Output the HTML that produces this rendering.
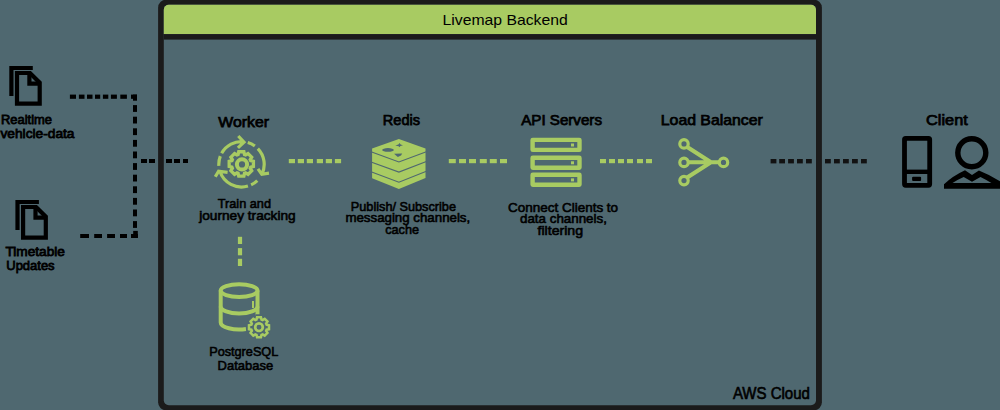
<!DOCTYPE html>
<html><head><meta charset="utf-8"><style>
html,body{margin:0;padding:0;background:#4f6870;width:1000px;height:410px;overflow:hidden;}
svg{display:block;font-family:"Liberation Sans",sans-serif;}
</style></head><body><svg width="1000" height="410" viewBox="0 0 1000 410"><rect x="158.1" y="-0.3" width="663.8" height="410.6" rx="8" fill="#1b1b1b"/><rect x="163.8" y="4.8" width="652.2" height="400.4" rx="5" fill="#4f6870"/><path d="M163.8,34.1 V9.8 A5,5 0 0 1 168.8,4.8 H811 A5,5 0 0 1 816,9.8 V34.1 Z" fill="#a8cb62"/><rect x="163.8" y="34.1" width="652.2" height="5.5" fill="#1b1b1b"/><g fill="#000000" font-family="Liberation Sans"><text x="442.5" y="24.5" textLength="125.3" lengthAdjust="spacingAndGlyphs" font-size="15" font-weight="normal">Livemap Backend</text><g stroke="#000" stroke-width="0.75"><text x="218.3" y="126.8" textLength="50.7" lengthAdjust="spacingAndGlyphs" font-size="14.8" font-weight="normal">Worker</text><text x="382.8" y="124.7" textLength="37.2" lengthAdjust="spacingAndGlyphs" font-size="14.8" font-weight="normal">Redis</text><text x="521.2" y="124.5" textLength="80.8" lengthAdjust="spacingAndGlyphs" font-size="14.8" font-weight="normal">API Servers</text><text x="660.8" y="124.8" textLength="102.0" lengthAdjust="spacingAndGlyphs" font-size="14.8" font-weight="normal">Load Balancer</text><text x="926.1" y="124.8" textLength="41.7" lengthAdjust="spacingAndGlyphs" font-size="14.8" font-weight="normal">Client</text></g><g stroke="#000" stroke-width="0.8"><text x="1" y="123.8" textLength="51.0" lengthAdjust="spacingAndGlyphs" font-size="13.4" font-weight="normal">Realtime</text><text x="0.5" y="137.8" textLength="74.0" lengthAdjust="spacingAndGlyphs" font-size="13.4" font-weight="normal">vehicle-data</text><text x="5.4" y="256.4" textLength="59.5" lengthAdjust="spacingAndGlyphs" font-size="13.4" font-weight="normal">Timetable</text><text x="6.3" y="270.4" textLength="48.3" lengthAdjust="spacingAndGlyphs" font-size="13.4" font-weight="normal">Updates</text></g><g stroke="#000" stroke-width="0.6"><text x="217.7" y="208.1" textLength="53.3" lengthAdjust="spacingAndGlyphs" font-size="13.2" font-weight="normal">Train and</text><text x="199.2" y="219.7" textLength="96.5" lengthAdjust="spacingAndGlyphs" font-size="13.2" font-weight="normal">journey tracking</text><text x="350.8" y="210.5" textLength="105.2" lengthAdjust="spacingAndGlyphs" font-size="13.2" font-weight="normal">Publish/ Subscribe</text><text x="345.4" y="222" textLength="124.8" lengthAdjust="spacingAndGlyphs" font-size="13.2" font-weight="normal">messaging channels,</text><text x="385.2" y="234.1" textLength="33.8" lengthAdjust="spacingAndGlyphs" font-size="13.2" font-weight="normal">cache</text><text x="508.1" y="211.5" textLength="110.0" lengthAdjust="spacingAndGlyphs" font-size="13.2" font-weight="normal">Connect Clients to</text><text x="520" y="223" textLength="86.9" lengthAdjust="spacingAndGlyphs" font-size="13.2" font-weight="normal">data channels,</text><text x="537.5" y="234.9" textLength="45.6" lengthAdjust="spacingAndGlyphs" font-size="13.2" font-weight="normal">filtering</text><text x="209.2" y="356" textLength="69.1" lengthAdjust="spacingAndGlyphs" font-size="13.2" font-weight="normal">PostgreSQL</text><text x="217.6" y="370.2" textLength="55.5" lengthAdjust="spacingAndGlyphs" font-size="13.2" font-weight="normal">Database</text></g><g stroke="#000" stroke-width="0.6"><text x="732.9" y="398.5" textLength="77.0" lengthAdjust="spacingAndGlyphs" font-size="15.8" font-weight="normal">AWS Cloud</text></g></g><rect x="69.9" y="94.6" width="6.099999999999994" height="4.2" fill="#000"/><rect x="78.9" y="94.6" width="5.599999999999994" height="4.2" fill="#000"/><rect x="87" y="94.6" width="5.5" height="4.2" fill="#000"/><rect x="95" y="94.6" width="5.200000000000003" height="4.2" fill="#000"/><rect x="102.9" y="94.6" width="5.3999999999999915" height="4.2" fill="#000"/><rect x="110.9" y="94.6" width="6.0" height="4.2" fill="#000"/><rect x="120.3" y="94.6" width="6.6000000000000085" height="4.2" fill="#000"/><rect x="131" y="94.6" width="6" height="4.2" fill="#000"/><rect x="133" y="94.6" width="4" height="6.1" fill="#000"/><rect x="133" y="105.1" width="4" height="6.8" fill="#000"/><rect x="133" y="116.7" width="4" height="6.8" fill="#000"/><rect x="133" y="128.3" width="4" height="6.8" fill="#000"/><rect x="133" y="139.9" width="4" height="6.8" fill="#000"/><rect x="133" y="151.5" width="4" height="6.8" fill="#000"/><rect x="133" y="163.1" width="4" height="6.8" fill="#000"/><rect x="133" y="174.7" width="4" height="6.8" fill="#000"/><rect x="133" y="186.3" width="4" height="6.8" fill="#000"/><rect x="133" y="197.9" width="4" height="6.8" fill="#000"/><rect x="133" y="209.5" width="4" height="6.8" fill="#000"/><rect x="133" y="221.1" width="4" height="6.8" fill="#000"/><rect x="80.2" y="234" width="8.799999999999997" height="4" fill="#000"/><rect x="94.2" y="234" width="7.799999999999997" height="4" fill="#000"/><rect x="107.1" y="234" width="7.900000000000006" height="4" fill="#000"/><rect x="120" y="234" width="7" height="4" fill="#000"/><rect x="131" y="234" width="6.900000000000006" height="4" fill="#000"/><rect x="133.2" y="230.9" width="4.6" height="7.1" fill="#000"/><rect x="141" y="159" width="6" height="4" fill="#000"/><rect x="149" y="159" width="6" height="4" fill="#000"/><rect x="166" y="159" width="6" height="4" fill="#000"/><rect x="174" y="159" width="6" height="4" fill="#000"/><rect x="183" y="159" width="5" height="4" fill="#000"/><rect x="288.8" y="159" width="6.2" height="4.199999999999989" fill="#a8cb62"/><rect x="297.8" y="159" width="6.2" height="4.199999999999989" fill="#a8cb62"/><rect x="306.8" y="159" width="6.2" height="4.199999999999989" fill="#a8cb62"/><rect x="316.8" y="159" width="6.2" height="4.199999999999989" fill="#a8cb62"/><rect x="325.8" y="159" width="6.2" height="4.199999999999989" fill="#a8cb62"/><rect x="334.9" y="159" width="6.2" height="4.199999999999989" fill="#a8cb62"/><rect x="448.8" y="159" width="7" height="4.199999999999989" fill="#a8cb62"/><rect x="459" y="159" width="7" height="4.199999999999989" fill="#a8cb62"/><rect x="469" y="159" width="7" height="4.199999999999989" fill="#a8cb62"/><rect x="479.8" y="159" width="7" height="4.199999999999989" fill="#a8cb62"/><rect x="489.8" y="159" width="7" height="4.199999999999989" fill="#a8cb62"/><rect x="500" y="159" width="7" height="4.199999999999989" fill="#a8cb62"/><rect x="600" y="159" width="6" height="4.199999999999989" fill="#a8cb62"/><rect x="609" y="159" width="6" height="4.199999999999989" fill="#a8cb62"/><rect x="618" y="159" width="6" height="4.199999999999989" fill="#a8cb62"/><rect x="627" y="159" width="6" height="4.199999999999989" fill="#a8cb62"/><rect x="637" y="159" width="6" height="4.199999999999989" fill="#a8cb62"/><rect x="646" y="159" width="6" height="4.199999999999989" fill="#a8cb62"/><rect x="237.9" y="236.8" width="4.2" height="7.2" fill="#a8cb62"/><rect x="237.9" y="248.1" width="4.2" height="7.2" fill="#a8cb62"/><rect x="237.9" y="258.8" width="4.2" height="7.2" fill="#a8cb62"/><rect x="770.6" y="159" width="5.8" height="4.400000000000006" fill="#121212"/><rect x="779.2" y="159" width="5.8" height="4.400000000000006" fill="#121212"/><rect x="788.1" y="159" width="5.8" height="4.400000000000006" fill="#121212"/><rect x="797" y="159" width="5.8" height="4.400000000000006" fill="#121212"/><rect x="806" y="159" width="5.8" height="4.400000000000006" fill="#121212"/><rect x="825" y="159" width="5.8" height="4.400000000000006" fill="#121212"/><rect x="834" y="159" width="5.8" height="4.400000000000006" fill="#121212"/><rect x="843" y="159" width="5.8" height="4.400000000000006" fill="#121212"/><rect x="852" y="159" width="5.8" height="4.400000000000006" fill="#121212"/><rect x="861" y="159" width="5.8" height="4.400000000000006" fill="#121212"/><g fill="none" stroke="#a8cb62" stroke-width="3.2" stroke-linecap="butt" stroke-linejoin="miter"><path d="M218.86,165.88 A22.7,22.7 0 0 1 220.31,156.17 M221.65,153.29 A22.7,22.7 0 0 1 243.87,141.72 M238.3,136.0 L244.0,142.1 L237.9,147.8 M247.76,142.48 A22.7,22.7 0 0 1 254.84,145.94 M257.83,148.53 A22.7,22.7 0 0 1 261.90,174.25 M258.0,168.8 L261.8,174.3 L269.0,173.2 M257.27,180.63 A22.7,22.7 0 0 1 251.09,184.87 M247.95,186.07 A22.7,22.7 0 0 1 219.91,171.31 M227.6,172.3 L218.6,171.2 L215.3,176.8"/><path d="M238.08,154.54 L238.72,151.77 L243.88,151.77 L244.52,154.54 L245.64,155.00 L248.05,153.50 L251.70,157.15 L250.20,159.56 L250.66,160.68 L253.43,161.32 L253.43,166.48 L250.66,167.12 L250.20,168.24 L251.70,170.65 L248.05,174.30 L245.64,172.80 L244.52,173.26 L243.88,176.03 L238.72,176.03 L238.08,173.26 L236.96,172.80 L234.55,174.30 L230.90,170.65 L232.40,168.24 L231.94,167.12 L229.17,166.48 L229.17,161.32 L231.94,160.68 L232.40,159.56 L230.90,157.15 L234.55,153.50 L236.96,155.00 Z" stroke-width="3.3"/><circle cx="242" cy="164.4" r="5.1" stroke-width="4"/></g><path d="M398.9,138.9 L425.5,148.4 V178.1 L398.9,188.9 L372.1,178.3 V148.4 Z" fill="#a8cb62"/><path d="M371,151.7 L398.9,162 L427,151.4" stroke="#4f6870" stroke-width="1.1" fill="none"/><path d="M371,162 L398.9,172.1 L427,161.2" stroke="#4f6870" stroke-width="1.1" fill="none"/><path d="M371,171.7 L398.9,182.2 L427,171" stroke="#4f6870" stroke-width="1.1" fill="none"/><ellipse cx="388" cy="149.9" rx="5.8" ry="1.8" fill="#4f6870"/><path d="M395.3,145.6 L398.4,144.6 L399.6,142.9 L400.6,144.6 L403,145.2 L400.4,146.1 L399.6,147.2 L398.6,146.2 Z" fill="#4f6870"/><path d="M394.1,153.8 L402.2,153.4 L401,155.5 L397.8,157 Z" fill="#4f6870"/><rect x="532.5999999999999" y="139.9" width="46.9" height="10" rx="0.2" fill="none" stroke="#a8cb62" stroke-width="4.4"/><rect x="571" y="143.5" width="3" height="3" fill="#a8cb62"/><rect x="532.5999999999999" y="157.7" width="46.9" height="10" rx="0.2" fill="none" stroke="#a8cb62" stroke-width="4.4"/><rect x="571" y="161.29999999999998" width="3" height="3" fill="#a8cb62"/><rect x="532.5999999999999" y="174.8" width="46.9" height="10" rx="0.2" fill="none" stroke="#a8cb62" stroke-width="4.4"/><rect x="571" y="178.4" width="3" height="3" fill="#a8cb62"/><g stroke="#a8cb62" stroke-width="3.2" fill="none"><circle cx="684" cy="143.9" r="4.2"/><circle cx="684" cy="162.4" r="4.2"/><circle cx="684" cy="180.6" r="4.2"/><circle cx="723.5" cy="162.4" r="4.2"/><path d="M686.8,146.8 L711,162.2 L686.8,177.8 M688,162.3 H719.5" stroke-width="4.1"/></g><g stroke="#a8cb62" stroke-width="4" fill="none"><ellipse cx="239.1" cy="290.6" rx="18.4" ry="6.3"/><path d="M220.7,290.6 V322.5 A18.4,7 0 0 0 246,329"/><path d="M257.5,290.6 V316"/><path d="M220.7,306.5 A18.4,7 0 0 0 257.5,306.5"/><path d="M253,301 V308" stroke-width="2"/></g><g stroke="#4f6870" stroke-width="3.2" fill="#4f6870"><path d="M256.10,318.26 L256.79,315.81 L261.21,315.81 L261.90,318.26 L263.27,318.82 L265.49,317.58 L268.62,320.71 L267.38,322.93 L267.94,324.30 L270.39,324.99 L270.39,329.41 L267.94,330.10 L267.38,331.47 L268.62,333.69 L265.49,336.82 L263.27,335.58 L261.90,336.14 L261.21,338.59 L256.79,338.59 L256.10,336.14 L254.73,335.58 L252.51,336.82 L249.38,333.69 L250.62,331.47 L250.06,330.10 L247.61,329.41 L247.61,324.99 L250.06,324.30 L250.62,322.93 L249.38,320.71 L252.51,317.58 L254.73,318.82 Z"/></g><g stroke="#a8cb62" stroke-width="2.5" fill="#4f6870"><path d="M256.53,319.59 L257.05,317.19 L260.95,317.19 L261.47,319.59 L262.63,320.07 L264.70,318.74 L267.46,321.50 L266.13,323.57 L266.61,324.73 L269.01,325.25 L269.01,329.15 L266.61,329.67 L266.13,330.83 L267.46,332.90 L264.70,335.66 L262.63,334.33 L261.47,334.81 L260.95,337.21 L257.05,337.21 L256.53,334.81 L255.37,334.33 L253.30,335.66 L250.54,332.90 L251.87,330.83 L251.39,329.67 L248.99,329.15 L248.99,325.25 L251.39,324.73 L251.87,323.57 L250.54,321.50 L253.30,318.74 L255.37,320.07 Z"/><circle cx="259" cy="327.2" r="3.8" stroke-width="2.7"/></g><g stroke="#000" stroke-width="4.2" fill="none" stroke-linejoin="miter"><path d="M11.4,96 V68 H32.8"/><path d="M17,73 H30 L39.7,82.7 V103.6 H17 Z"/><path d="M29.4,73 V83.7 H39.7"/></g><g stroke="#000" stroke-width="4.2" fill="none" stroke-linejoin="miter"><path d="M17.5,230 V202 H38.9"/><path d="M23.1,207 H36.1 L45.800000000000004,216.7 V237.6 H23.1 Z"/><path d="M35.5,207 V217.7 H45.800000000000004"/></g><g stroke="#000" fill="none"><rect x="904.5" y="138.4" width="25.2" height="46.9" rx="1.2" stroke-width="4.8"/><path d="M906,171.8 H928" stroke-width="4.4"/><rect x="912.1" y="176.8" width="9" height="4.2" rx="1" fill="#000" stroke="none"/></g><g stroke="#000" fill="none" stroke-width="5.4"><circle cx="971.8" cy="152.7" r="14"/><path d="M944,188.7 L944,184.3 Q953,175.8 965,170.3 L972,174.9 L978.9,170.6 Q991,175.5 1001,181.8 L1001,188.7 Z M952.5,183.1 Q957.5,179.5 963.7,176.9 L972,181.8 L980.5,176.9 Q986,179.5 991.4,183.1 Z" fill="#000" fill-rule="evenodd" stroke="none"/></g></svg></body></html>
